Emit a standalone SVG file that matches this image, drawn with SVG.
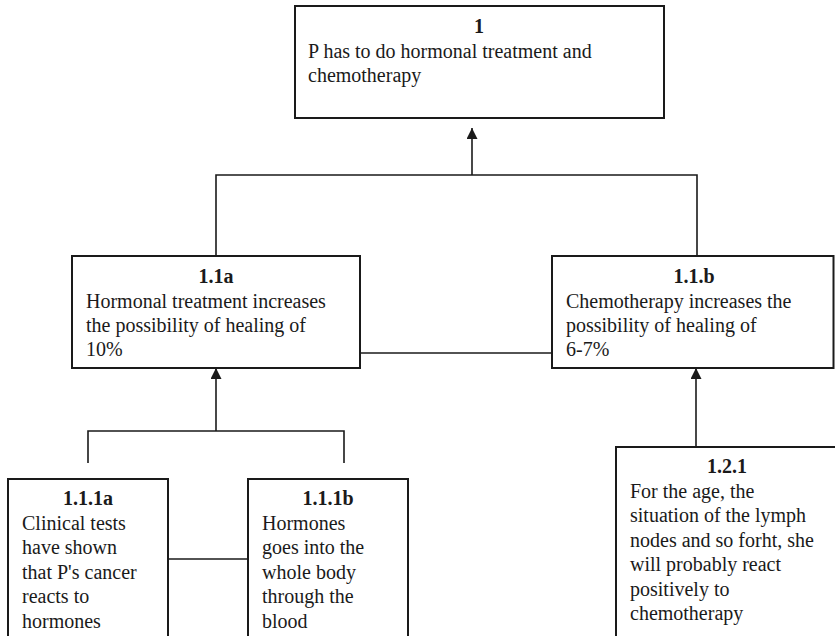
<svg xmlns="http://www.w3.org/2000/svg" width="835" height="636" viewBox="0 0 835 636">
<defs>
<style>
.box{fill:#fff;stroke:#1a1a1a;stroke-width:2}
.t{font-family:"Liberation Serif","Times New Roman",serif;font-size:20px;fill:#1a1a1a}
.b{font-weight:bold;text-anchor:middle}
.c{fill:none;stroke:#1a1a1a;stroke-width:1.6}
</style>
<marker id="ah" markerWidth="12" markerHeight="11" refX="11" refY="5.5" orient="auto" markerUnits="userSpaceOnUse">
<path d="M0,0 L11,5.5 L0,11 Z" fill="#1a1a1a"/>
</marker>
</defs>
<rect width="835" height="636" fill="#fff"/>
<g id="connectors">
<line class="c" x1="472" y1="175" x2="472" y2="128" marker-end="url(#ah)"/>
<polyline class="c" points="216,256 216,175 697,175 697,256"/>
<line class="c" x1="360" y1="353" x2="552" y2="353"/>
<line class="c" x1="216" y1="431" x2="216" y2="368" marker-end="url(#ah)"/>
<polyline class="c" points="88,463 88,431 344,431 344,463"/>
<line class="c" x1="696" y1="447" x2="696" y2="368" marker-end="url(#ah)"/>
<line class="c" x1="168" y1="559" x2="248" y2="559"/>
</g>
<g id="n1">
<rect class="box" x="295" y="6" width="369" height="112"/>
<text class="t b" x="479" y="33">1</text>
<text class="t" x="308" y="58">P has to do hormonal treatment and</text>
<text class="t" x="308" y="82">chemotherapy</text>
</g>
<g id="n11a">
<rect class="box" x="72" y="256" width="288" height="112"/>
<text class="t b" x="216" y="283">1.1a</text>
<text class="t" x="86" y="308">Hormonal treatment increases</text>
<text class="t" x="86" y="332">the possibility of healing of</text>
<text class="t" x="86" y="356">10%</text>
</g>
<g id="n11b">
<rect class="box" x="552" y="256" width="281.5" height="112"/>
<text class="t b" x="694" y="283">1.1.b</text>
<text class="t" x="566" y="308">Chemotherapy increases the</text>
<text class="t" x="566" y="332">possibility of healing of</text>
<text class="t" x="566" y="356">6-7%</text>
</g>
<g id="n111a">
<rect class="box" x="8" y="479" width="160" height="170"/>
<text class="t b" x="88" y="505">1.1.1a</text>
<text class="t" x="22" y="530">Clinical tests</text>
<text class="t" x="22" y="554">have shown</text>
<text class="t" x="22" y="579">that P's cancer</text>
<text class="t" x="22" y="603">reacts to</text>
<text class="t" x="22" y="628">hormones</text>
</g>
<g id="n111b">
<rect class="box" x="248" y="479" width="160" height="170"/>
<text class="t b" x="328" y="505">1.1.1b</text>
<text class="t" x="262" y="530">Hormones</text>
<text class="t" x="262" y="554">goes into the</text>
<text class="t" x="262" y="579">whole body</text>
<text class="t" x="262" y="603">through the</text>
<text class="t" x="262" y="628">blood</text>
</g>
<g id="n121">
<rect class="box" x="616" y="447" width="224" height="200"/>
<text class="t b" x="727" y="473">1.2.1</text>
<text class="t" x="630" y="498">For the age, the</text>
<text class="t" x="630" y="522">situation of the lymph</text>
<text class="t" x="630" y="547">nodes and so forht, she</text>
<text class="t" x="630" y="571">will probably react</text>
<text class="t" x="630" y="596">positively to</text>
<text class="t" x="630" y="620">chemotherapy</text>
</g>
</svg>
